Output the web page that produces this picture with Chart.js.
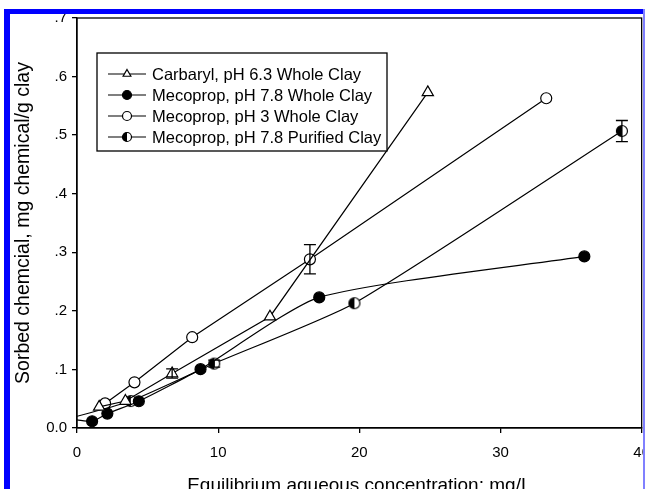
<!DOCTYPE html>
<html>
<head>
<meta charset="utf-8">
<script src="https://cdn.jsdelivr.net/npm/chart.js@4"></script>
<style>
  html, body { margin: 0; padding: 0; background: #fff; overflow: hidden; width: 645px; height: 489px; }
  #wrap { position: relative; width: 645px; height: 489px; overflow: hidden; }
  #chart { position: absolute; left: 0; top: 0; }
  .frame { position: absolute; background: #0000ff; }
</style>
</head>
<body>
<div id="wrap">
  <canvas id="chart" width="661" height="502"></canvas>
  <div class="frame" style="left:4px; top:9px; width:641px; height:5px;"></div>
  <div class="frame" style="left:4px; top:9px; width:6px; height:480px;"></div>
  <div class="frame" style="left:643px; top:9px; width:2px; height:480px; background:#8080ff;"></div>
</div>
<script>
// sorption isotherms, values
const carbarylX = [1.57, 3.43, 6.74, 13.67, 24.85];
const carbarylY = [0.036, 0.046, 0.093, 0.190, 0.573];
const carbarylErr = [0, 0, 0.008, 0, 0];

// first point of each mecoprop 7.8 series is where the curve leaves the y axis (no marker)
const meco78X = [0, 1.07, 2.15, 4.38, 8.75, 17.16, 35.94];
const meco78Y = [0.014, 0.0115, 0.0246, 0.0457, 0.1005, 0.223, 0.293];
const meco78Err = [0, 0, 0, 0, 0, 0, 0];

const meco3X = [1.99, 4.07, 8.16, 16.5, 33.24];
const meco3Y = [0.042, 0.078, 0.155, 0.288, 0.563];
const meco3Err = [0, 0, 0, 0.025, 0];

const purifiedX = [0, 3.81, 9.72, 19.65, 38.6];
const purifiedY = [0.02, 0.046, 0.110, 0.213, 0.507];
const purifiedErr = [0, 0, 0.006, 0, 0.018];

const seriesLabels = [
    'Carbaryl, pH 6.3 Whole Clay',
    'Mecoprop, pH 7.8 Whole Clay',
    'Mecoprop, pH 3 Whole Clay',
    'Mecoprop, pH 7.8 Purified Clay'
];

const xTicks = [0, 10, 20, 30, 40];
const yTicks = [0, 0.1, 0.2, 0.3, 0.4, 0.5, 0.6, 0.7];

const FONT = "'Liberation Sans', Arial, sans-serif";

function halfCircle(r) {
    const c = document.createElement('canvas');
    const s = Math.ceil(r * 2 + 3);
    c.width = s;
    c.height = s;
    const g = c.getContext('2d');
    const m = s / 2;
    g.beginPath();
    g.arc(m, m, r, 0, Math.PI * 2);
    g.fillStyle = '#fff';
    g.fill();
    g.beginPath();
    g.arc(m, m, r, Math.PI / 2, Math.PI * 3 / 2);
    g.closePath();
    g.fillStyle = '#000';
    g.fill();
    g.beginPath();
    g.arc(m, m, r, 0, Math.PI * 2);
    g.lineWidth = 1.2;
    g.strokeStyle = '#000';
    g.stroke();
    return c;
}

function pts(xs, ys) {
    return xs.map((x, i) => ({ x: x, y: ys[i] }));
}

const halfBig = halfCircle(5.5);
const halfSmall = halfCircle(4.5);

const datasets = [
    {
        label: seriesLabels[0],
        data: pts(carbarylX, carbarylY),
        err: carbarylErr,
        pointStyle: 'triangle',
        pointRadius: 6.5,
        backgroundColor: '#fff',
        borderColor: '#000',
        legendStyle: 'triangle'
    },
    {
        label: seriesLabels[1],
        data: pts(meco78X, meco78Y),
        err: meco78Err,
        pointStyle: 'circle',
        pointRadius: meco78X.map((x, i) => i === 0 ? 0 : 5.5),
        backgroundColor: '#000',
        borderColor: '#000',
        tension: 0.2,
        legendStyle: 'circle'
    },
    {
        label: seriesLabels[2],
        data: pts(meco3X, meco3Y),
        err: meco3Err,
        pointStyle: 'circle',
        pointRadius: 5.5,
        backgroundColor: '#fff',
        borderColor: '#000',
        legendStyle: 'circle'
    },
    {
        label: seriesLabels[3],
        data: pts(purifiedX, purifiedY),
        err: purifiedErr,
        pointStyle: halfBig,
        pointRadius: purifiedX.map((x, i) => i === 0 ? 0 : 5.5),
        backgroundColor: '#000',
        borderColor: '#000',
        tension: 0.2,
        legendStyle: halfSmall
    }
].map(d => Object.assign({
    showLine: true,
    borderWidth: 1.2,
    pointBorderWidth: 1.2,
    pointHoverRadius: 5.5
}, d));

// error bars and the plot frame
const extras = {
    id: 'extras',
    afterDatasetsDraw(chart) {
        const ctx = chart.ctx;
        const xs = chart.scales.x, ys = chart.scales.y;
        ctx.save();
        ctx.strokeStyle = '#000';
        ctx.lineWidth = 1.3;
        chart.data.datasets.forEach(ds => {
            ds.data.forEach((p, i) => {
                const e = ds.err[i];
                if (!e) return;
                const px = xs.getPixelForValue(p.x);
                const y1 = ys.getPixelForValue(p.y + e);
                const y2 = ys.getPixelForValue(p.y - e);
                ctx.beginPath();
                ctx.moveTo(px, y1); ctx.lineTo(px, y2);
                ctx.moveTo(px - 6, y1); ctx.lineTo(px + 6, y1);
                ctx.moveTo(px - 6, y2); ctx.lineTo(px + 6, y2);
                ctx.stroke();
            });
        });
        const a = chart.chartArea;
        ctx.lineWidth = 1.3;
        ctx.strokeRect(a.left, a.top, a.right - a.left, a.bottom - a.top);
        ctx.restore();
    },
    afterDraw(chart) {
        // legend box inside the plot
        const ctx = chart.ctx;
        ctx.save();
        ctx.fillStyle = '#fff';
        ctx.fillRect(97, 53, 290, 98);
        ctx.strokeStyle = '#000';
        ctx.lineWidth = 1.3;
        ctx.strokeRect(97, 53, 290, 98);
        ctx.font = '16.5px ' + FONT;
        ctx.textBaseline = 'middle';
        chart.data.datasets.forEach((ds, i) => {
            const y = 74 + i * 21;
            ctx.beginPath();
            ctx.lineWidth = 1.2;
            ctx.moveTo(108, y);
            ctx.lineTo(146, y);
            ctx.stroke();
            ctx.fillStyle = ds.backgroundColor;
            ctx.strokeStyle = '#000';
            Chart.helpers.drawPoint(ctx, {
                pointStyle: ds.legendStyle,
                radius: 4.5,
                borderWidth: 1.2
            }, 127, y);
            ctx.fillStyle = '#000';
            ctx.fillText(ds.label, 152, y + 1);
        });
        ctx.restore();
    }
};

new Chart(document.getElementById('chart'), {
    type: 'scatter',
    data: { datasets: datasets },
    options: {
        responsive: false,
        animation: false,
        events: [],
        layout: { padding: { top: 18, right: 8, left: 0, bottom: 0 } },
        plugins: {
            legend: { display: false },
            tooltip: { enabled: false }
        },
        scales: {
            x: {
                type: 'linear',
                min: 0,
                max: 40,
                afterBuildTicks: s => { s.ticks = xTicks.map(v => ({ value: v })); },
                afterFit: s => { s.height = 74; },
                grid: { drawOnChartArea: false, drawTicks: true, tickLength: 5, color: '#000', lineWidth: 1.3 },
                border: { color: '#000', width: 1.3 },
                ticks: { color: '#000', font: { family: FONT, size: 15 }, padding: 11, maxRotation: 0 },
                title: {
                    display: true,
                    text: 'Equilibrium aqueous concentration; mg/L',
                    color: '#000',
                    font: { family: FONT, size: 19 },
                    padding: { top: 0, bottom: 5 }
                }
            },
            y: {
                type: 'linear',
                min: 0,
                max: 0.7,
                afterBuildTicks: s => { s.ticks = yTicks.map(v => ({ value: v })); },
                afterFit: s => { s.width = 77; },
                grid: { drawOnChartArea: false, drawTicks: true, tickLength: 5, color: '#000', lineWidth: 1.3 },
                border: { color: '#000', width: 1.3 },
                ticks: {
                    color: '#000',
                    font: { family: FONT, size: 15 },
                    padding: 5,
                    callback: v => v === 0 ? '0.0' : '.' + Math.round(v * 10)
                },
                title: {
                    display: true,
                    text: 'Sorbed chemcial, mg chemical/g clay',
                    color: '#000',
                    font: { family: FONT, size: 19.5 },
                    padding: { top: 12, bottom: 0 }
                }
            }
        }
    },
    plugins: [extras]
});
</script>
</body>
</html>
